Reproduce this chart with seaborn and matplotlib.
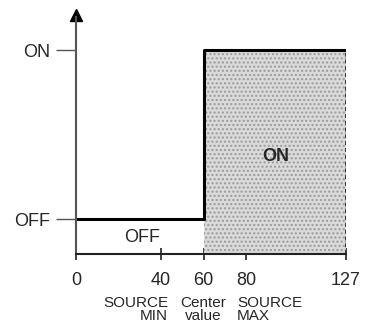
import matplotlib
matplotlib.use("Agg")
import matplotlib.pyplot as plt
import seaborn as sns
import pandas as pd
from matplotlib import font_manager

# step response: OFF below the center value, ON above it
x_vals = [0, 60, 127]
state = [0, 1, 1]
state_levels = [0, 1]
state_labels = ["OFF", "ON"]
x_ticks = [0, 40, 60, 80, 127]
x_tick_labels = ["0", "40", "60", "80", "127"]
note_pos = [40, 60, 80]
note_text = ["SOURCE\nMIN", "Center\nvalue", "SOURCE\nMAX"]
y_bottom = -0.206

df = pd.DataFrame({"x": x_vals, "state": state})

sns.set_style("white")
plt.rcParams["font.family"] = ["Liberation Sans", "DejaVu Sans"]
names = {f.name for f in font_manager.fontManager.ttflist}
if "Liberation Sans Narrow" in names:
    note_font, note_size = ["Liberation Sans Narrow", "Liberation Sans"], 12
else:
    note_font, note_size = ["Liberation Sans"], 11

fig = plt.figure(figsize=(3.65, 3.28), dpi=100)
ax = fig.add_axes([76 / 365, 74 / 328, 270 / 365, 244 / 328])

# shaded ON area
ax.fill_between([x_vals[1], x_vals[-1]], y_bottom, state[-1], facecolor="#dadada",
                edgecolor="#9a9a9a", hatch="....", linewidth=0)

sns.lineplot(data=df, x="x", y="state", drawstyle="steps-post", color="black",
             linewidth=2.2, ax=ax, legend=False)
ax.vlines(x_vals[-1], y_bottom, state[-1], color="#333333", linewidth=1.4,
          linestyles=(0, (2, 1.5)))

ax.set_xlim(0, 127)
ax.set_ylim(y_bottom, 1.24)
for s in ["top", "right"]:
    ax.spines[s].set_visible(False)
ax.spines["left"].set_bounds(y_bottom, 1.2)
ax.spines["left"].set_color("#555555")
ax.spines["left"].set_linewidth(1.5)
ax.spines["bottom"].set_color("#222222")
ax.spines["bottom"].set_linewidth(1.5)
ax.plot([0], [1.21], marker="^", color="black", markersize=9, clip_on=False)

ax.set_xticks(x_ticks, x_tick_labels)
ax.set_yticks(state_levels, state_labels)
ax.tick_params(axis="x", bottom=True, direction="inout", length=9, width=1.2,
               color="#222222", pad=8.5, labelsize=13)
ax.tick_params(axis="y", left=True, direction="out", length=14.4, width=1,
               color="#555555", pad=4, labelsize=13)
ax.set_xlabel("")
ax.set_ylabel("")

aligns = ["right", "center", "left"]
offsets = [7, 0, -9]
for p, t, ha, off in zip(note_pos, note_text, aligns, offsets):
    ax.text(p + off / 2.126, -0.172, t, transform=ax.get_xaxis_transform(), ha=ha,
            va="top", ma=ha, fontsize=note_size, family=note_font, linespacing=0.95)

ax.text(31, -0.11, "OFF", ha="center", va="center", fontsize=13)
ax.text(94, 0.37, "ON", ha="center", va="center", fontsize=13, fontweight="bold")

fig.savefig("out.png", dpi=100)
